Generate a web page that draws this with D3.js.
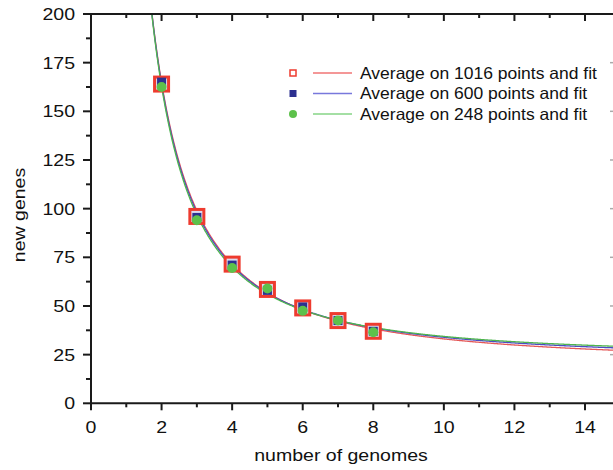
<!DOCTYPE html>
<html>
<head>
<meta charset="utf-8">
<script src="https://cdn.jsdelivr.net/npm/d3@7"></script>
<style>
  html, body { margin: 0; padding: 0; background: #fff; }
  svg { display: block; }
  text { font-family: "Liberation Sans", Arial, Helvetica, sans-serif; fill: #111; }
</style>
</head>
<body>
<div id="chart"></div>
<script>
// --- data -------------------------------------------------------------
const genomes = [2, 3, 4, 5, 6, 7, 8];
const avg1016 = [164, 96, 71.5, 58.5, 49, 42.5, 37];
const avg600  = [165, 95.5, 71, 58, 49.5, 42.5, 37];
const avg248  = [162.5, 94, 69.5, 59, 47.5, 42.5, 36.5];

// fit y = a * x^-b + c  (one entry per series: 1016, 600, 248)
const fitA = [408, 413, 418];
const fitB = [1.494, 1.54, 1.585];
const fitC = [20, 22, 23.5];

const seriesNames = [
  "Average on 1016 points and fit",
  "Average on 600 points and fit",
  "Average on 248 points and fit"
];
const xTicks = [0, 2, 4, 6, 8, 10, 12, 14];
const yTicks = [0, 25, 50, 75, 100, 125, 150, 175, 200];
// ----------------------------------------------------------------------

(function () {
  const W = 613, H = 470;
  const pLeft = 91, pTop = 14, pBottom = 403.3;

  const x = d3.scaleLinear().domain([0, 14]).range([pLeft, 585]);
  const y = d3.scaleLinear().domain([0, 200]).range([pBottom, pTop]);

  const svg = d3.select("#chart").append("svg")
    .attr("width", W).attr("height", H);

  // colours: curves a bit stronger than the legend swatches
  const curveCol = ["#e45858", "#4c4cc4", "#4fb44f"];
  const legCol = ["#f07474", "#7878dc", "#86d486"];

  // stretched text helper (figure text is wider than its height suggests)
  function label(sel, px, py, str, opt) {
    const g = sel.append("g")
      .attr("transform", `translate(${px},${py}) ${opt.rot ? "rotate(-90)" : ""} scale(${opt.sx || 1},1)`);
    g.append("text")
      .attr("text-anchor", opt.anchor || "start")
      .attr("dy", opt.dy || "0.35em")
      .style("font-size", opt.size + "px")
      .text(str);
    return g;
  }

  svg.append("defs").append("clipPath").attr("id", "plot")
    .append("rect").attr("x", pLeft).attr("y", pTop)
    .attr("width", W - pLeft).attr("height", pBottom - pTop);

  // --- fit curves -------------------------------------------------------
  const xs = d3.range(1.6, 15.01, 0.02);
  const line = d3.line().x(d => x(d[0])).y(d => y(d[1]));
  const curves = svg.append("g").attr("clip-path", "url(#plot)");
  [0, 1, 2].forEach(i => {
    curves.append("path")
      .attr("d", line(xs.map(v => [v, fitA[i] * Math.pow(v, -fitB[i]) + fitC[i]])))
      .attr("fill", "none")
      .attr("stroke", curveCol[i])
      .attr("stroke-width", 1.3);
  });

  // --- markers ----------------------------------------------------------
  const marks = svg.append("g");
  marks.selectAll("rect.r").data(genomes).join("rect").attr("class", "r")
    .attr("x", d => x(d) - 7).attr("y", (d, i) => y(avg1016[i]) - 7)
    .attr("width", 14).attr("height", 14)
    .attr("fill", "#dcdcf0").attr("stroke", "#ee3b2f").attr("stroke-width", 3);
  marks.selectAll("rect.b").data(genomes).join("rect").attr("class", "b")
    .attr("x", d => x(d) - 4.5).attr("y", (d, i) => y(avg600[i]) - 4.5)
    .attr("width", 9).attr("height", 9)
    .attr("fill", "#2c3090");
  marks.selectAll("circle").data(genomes).join("circle")
    .attr("cx", d => x(d)).attr("cy", (d, i) => y(avg248[i]))
    .attr("r", 5)
    .attr("fill", "#5dc14b");

  // --- axes -------------------------------------------------------------
  const ax = svg.append("g").attr("stroke", "#1a1a1a").attr("stroke-width", 2);
  ax.append("line").attr("x1", pLeft).attr("x2", W).attr("y1", pBottom).attr("y2", pBottom);
  ax.append("line").attr("x1", pLeft).attr("x2", W).attr("y1", pTop).attr("y2", pTop);
  ax.append("line").attr("x1", pLeft).attr("x2", pLeft).attr("y1", pTop).attr("y2", pBottom);

  // bottom / top ticks (major every 2, minor every 1)
  d3.range(0, 16, 1).forEach(v => {
    const len = v % 2 === 0 ? 7 : 4;
    ax.append("line").attr("x1", x(v)).attr("x2", x(v)).attr("y1", pBottom).attr("y2", pBottom + len);
    if (v > 0) ax.append("line").attr("x1", x(v)).attr("x2", x(v)).attr("y1", pTop).attr("y2", pTop + len);
  });
  // left ticks (major every 25, minor every 12.5)
  d3.range(0, 200.1, 12.5).forEach(v => {
    const len = v % 25 === 0 ? 8 : 5;
    ax.append("line").attr("x1", pLeft - len).attr("x2", pLeft).attr("y1", y(v)).attr("y2", y(v));
  });
  // right axis sits just outside the frame; only its tick tips show
  yTicks.slice(1, -1).forEach(v => {
    svg.append("line").attr("x1", 610).attr("x2", 613).attr("y1", y(v)).attr("y2", y(v))
      .attr("stroke", "#aaa").attr("stroke-width", 1.5);
  });

  // tick labels
  xTicks.forEach(v => label(svg, x(v), 427, String(v), { size: 17, sx: 1.15, anchor: "middle" }));
  yTicks.forEach(v => label(svg, 75, y(v), String(v), { size: 17, sx: 1.15, anchor: "end" }));

  // axis titles
  label(svg, 341, 455, "number of genomes", { size: 17, sx: 1.15, anchor: "middle" });
  label(svg, 19, 215, "new genes", { size: 17, sx: 1.15, anchor: "middle", rot: true });

  // --- legend -----------------------------------------------------------
  const legY = [73, 93.5, 114];
  const leg = svg.append("g");
  leg.append("rect").attr("x", 290).attr("y", legY[0] - 3).attr("width", 6).attr("height", 6)
    .attr("fill", "#fff").attr("stroke", "#ee3b2f").attr("stroke-width", 1.5);
  leg.append("rect").attr("x", 289.5).attr("y", legY[1] - 3.5).attr("width", 7).attr("height", 7)
    .attr("fill", "#2c3090");
  leg.append("circle").attr("cx", 293).attr("cy", legY[2]).attr("r", 4).attr("fill", "#5dc14b");
  seriesNames.forEach((s, i) => {
    leg.append("line").attr("x1", 313).attr("x2", 352).attr("y1", legY[i]).attr("y2", legY[i])
      .attr("stroke", legCol[i]).attr("stroke-width", 1.4);
    label(leg, 360, legY[i], s, { size: 16.5, sx: 1.06 });
  });
})();
</script>
</body>
</html>
